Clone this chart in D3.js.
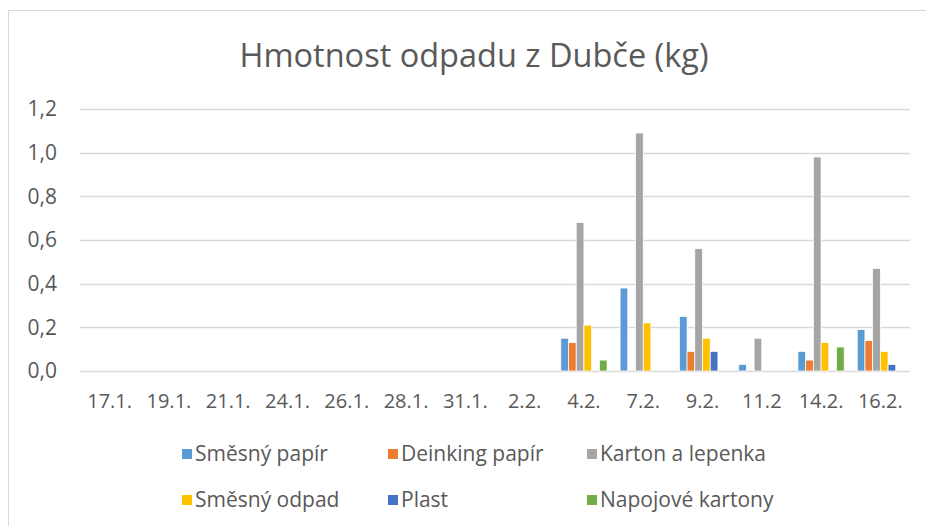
<!DOCTYPE html>
<html>
<head>
<meta charset="utf-8">
<script src="https://cdn.jsdelivr.net/npm/d3@7"></script>
<style>
  body { margin: 0; background: #fff; }
  text { font-family: "Open Sans", sans-serif; fill: #595959; }
</style>
</head>
<body>
<svg id="chart" width="926" height="526"></svg>
<script>
const categories = ["17.1.", "19.1.", "21.1.", "24.1.", "26.1.", "28.1.", "31.1.", "2.2.", "4.2.", "7.2.", "9.2.", "11.2", "14.2.", "16.2."];
const seriesNames = ["Směsný papír", "Deinking papír", "Karton a lepenka", "Směsný odpad", "Plast", "Napojové kartony"];
const smesnyPapir   = [0, 0, 0, 0, 0, 0, 0, 0, 0.15, 0.38, 0.25, 0.03, 0.09, 0.19];
const deinkingPapir = [0, 0, 0, 0, 0, 0, 0, 0, 0.13, 0, 0.09, 0, 0.05, 0.14];
const kartonLepenka = [0, 0, 0, 0, 0, 0, 0, 0, 0.68, 1.09, 0.56, 0.15, 0.98, 0.47];
const smesnyOdpad   = [0, 0, 0, 0, 0, 0, 0, 0, 0.21, 0.22, 0.15, 0, 0.13, 0.09];
const plast         = [0, 0, 0, 0, 0, 0, 0, 0, 0, 0, 0.09, 0, 0, 0.03];
const napojove      = [0, 0, 0, 0, 0, 0, 0, 0, 0.05, 0, 0, 0, 0.11, 0];
const yTicks = [0, 0.2, 0.4, 0.6, 0.8, 1.0, 1.2];
const colors = ["#5B9BD5", "#ED7D31", "#A5A5A5", "#FFC000", "#4472C4", "#70AD47"];

const allSeries = [smesnyPapir, deinkingPapir, kartonLepenka, smesnyOdpad, plast, napojove];

const svg = d3.select("#chart");

// outer frame
svg.append("rect")
    .attr("x", 8.5).attr("y", 10.5)
    .attr("width", 940).attr("height", 540)
    .attr("fill", "none").attr("stroke", "#d9d9d9");

svg.append("text")
    .attr("x", 474).attr("y", 67)
    .attr("text-anchor", "middle")
    .style("font-size", "32.5px")
    .text("Hmotnost odpadu z Dubče (kg)");

const plotL = 80, plotR = 910, plotT = 109, plotB = 371;

const x0 = d3.scaleBand().domain(categories).range([plotL, plotR]).paddingInner(0.22).paddingOuter(0.11);
const x1 = d3.scaleBand().domain(seriesNames).range([0, x0.bandwidth()]);
const y = d3.scaleLinear().domain([0, 1.2]).range([plotB, plotT]);

const fmt = d => d3.format(".1f")(d).replace(".", ",");

// grid
svg.append("g")
    .selectAll("line")
    .data(yTicks)
    .join("line")
    .attr("x1", plotL).attr("x2", plotR)
    .attr("y1", d => Math.round(y(d)) + 0.5).attr("y2", d => Math.round(y(d)) + 0.5)
    .attr("stroke", "#d9d9d9").attr("stroke-width", 1.3);

// y labels
svg.append("g")
    .selectAll("text")
    .data(yTicks)
    .join("text")
    .attr("x", 57).attr("y", d => y(d))
    .attr("dy", "0.35em")
    .attr("text-anchor", "end")
    .style("font-size", "21px")
    .text(fmt);

// x labels
svg.append("g")
    .selectAll("text")
    .data(categories)
    .join("text")
    .attr("x", d => x0(d) + x0.bandwidth() / 2)
    .attr("y", 408)
    .attr("text-anchor", "middle")
    .style("font-size", "20px")
    .text(d => d);

// bars
const groups = svg.append("g")
    .selectAll("g")
    .data(categories)
    .join("g")
    .attr("transform", d => `translate(${x0(d)},0)`);

groups.selectAll("rect")
    .data((c, i) => seriesNames.map((s, j) => ({ s, j, v: allSeries[j][i] })).filter(d => d.v > 0))
    .join("rect")
    .attr("x", d => x1(d.s))
    .attr("width", x1.bandwidth())
    .attr("y", d => y(d.v))
    .attr("height", d => y(0) - y(d.v))
    .attr("fill", d => colors[d.j])
    .attr("stroke", "#fff")
    .attr("stroke-width", 0.75);

// legend
const legendPos = [[182, 454], [388, 454], [587, 454], [182, 500], [388, 500], [587, 500]];
const legend = svg.append("g")
    .selectAll("g")
    .data(seriesNames)
    .join("g")
    .attr("transform", (d, i) => `translate(${legendPos[i][0]},${legendPos[i][1]})`);

legend.append("rect")
    .attr("x", 0).attr("y", -5)
    .attr("width", 10).attr("height", 10)
    .attr("fill", (d, i) => colors[i]);

legend.append("text")
    .attr("x", 13).attr("y", 0)
    .attr("dy", "0.35em")
    .style("font-size", "21px")
    .text(d => d);
</script>
</body>
</html>
